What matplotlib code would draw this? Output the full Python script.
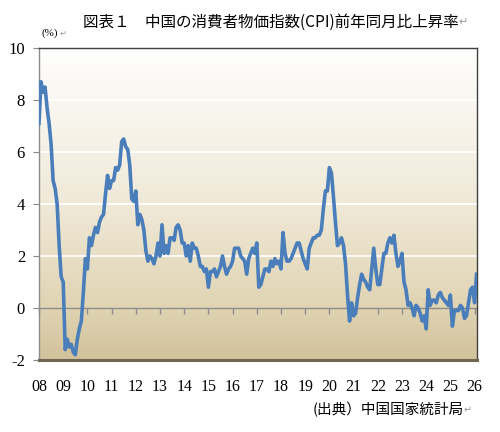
import numpy as np
import matplotlib
matplotlib.use("Agg")
import matplotlib.pyplot as plt
from matplotlib.colors import LinearSegmentedColormap

# China CPI YoY (%) monthly, Jan 2008 - Feb 2026
cpi_2008 = [7.1, 8.7, 8.3, 8.5, 7.7, 7.1, 6.3, 4.9, 4.6, 4.0, 2.4, 1.2]
cpi_2009 = [1.0, -1.6, -1.2, -1.5, -1.4, -1.7, -1.8, -1.2, -0.8, -0.5, 0.6, 1.9]
cpi_2010 = [1.5, 2.7, 2.4, 2.8, 3.1, 2.9, 3.3, 3.5, 3.6, 4.4, 5.1, 4.6]
cpi_2011 = [4.9, 4.9, 5.4, 5.3, 5.5, 6.4, 6.5, 6.2, 6.1, 5.5, 4.2, 4.1]
cpi_2012 = [4.5, 3.2, 3.6, 3.4, 3.0, 2.2, 1.8, 2.0, 1.9, 1.7, 2.0, 2.5]
cpi_2013 = [2.0, 3.2, 2.1, 2.4, 2.1, 2.7, 2.7, 2.6, 3.1, 3.2, 3.0, 2.5]
cpi_2014 = [2.5, 2.0, 2.4, 1.8, 2.5, 2.3, 2.3, 2.0, 1.6, 1.6, 1.4, 1.5]
cpi_2015 = [0.8, 1.4, 1.4, 1.5, 1.2, 1.4, 1.6, 2.0, 1.6, 1.3, 1.5, 1.6]
cpi_2016 = [1.8, 2.3, 2.3, 2.3, 2.0, 1.9, 1.8, 1.3, 1.9, 2.1, 2.3, 2.1]
cpi_2017 = [2.5, 0.8, 0.9, 1.2, 1.5, 1.5, 1.4, 1.8, 1.6, 1.9, 1.7, 1.8]
cpi_2018 = [1.5, 2.9, 2.1, 1.8, 1.8, 1.9, 2.1, 2.3, 2.5, 2.5, 2.2, 1.9]
cpi_2019 = [1.7, 1.5, 2.3, 2.5, 2.7, 2.7, 2.8, 2.8, 3.0, 3.8, 4.5, 4.5]
cpi_2020 = [5.4, 5.2, 4.3, 3.3, 2.4, 2.5, 2.7, 2.4, 1.7, 0.5, -0.5, 0.2]
cpi_2021 = [-0.3, -0.2, 0.4, 0.9, 1.3, 1.1, 1.0, 0.8, 0.7, 1.5, 2.3, 1.5]
cpi_2022 = [0.9, 0.9, 1.5, 2.1, 2.1, 2.5, 2.7, 2.5, 2.8, 2.1, 1.6, 1.8]
cpi_2023 = [2.1, 1.0, 0.7, 0.1, 0.2, 0.0, -0.3, 0.1, 0.0, -0.2, -0.5, -0.3]
cpi_2024 = [-0.8, 0.7, 0.1, 0.3, 0.3, 0.2, 0.5, 0.6, 0.4, 0.3, 0.2, 0.1]
cpi_2025 = [0.5, -0.7, -0.1, -0.1, -0.1, 0.1, 0.0, -0.4, -0.3, 0.2, 0.7, 0.8]
cpi_2026 = [0.2, 1.3]

start_year = 2008
year_ticks = list(range(2008, 2027))
year_labels = ["%02d" % (y % 100) for y in year_ticks]
y_ticks = [-2, 0, 2, 4, 6, 8, 10]

values = (cpi_2008 + cpi_2009 + cpi_2010 + cpi_2011 + cpi_2012 + cpi_2013 +
          cpi_2014 + cpi_2015 + cpi_2016 + cpi_2017 + cpi_2018 + cpi_2019 +
          cpi_2020 + cpi_2021 + cpi_2022 + cpi_2023 + cpi_2024 + cpi_2025 +
          cpi_2026)
x = start_year + np.arange(len(values)) / 12.0

serif = ["Liberation Serif", "DejaVu Serif"]
jp = ["Noto Sans CJK JP", "DejaVu Sans"]

fig = plt.figure(figsize=(5.0, 4.32), dpi=100)
ax = fig.add_axes([39/500, 1 - 360/432, (477-39)/500, (360-48)/432])

# gradient background
cmap = LinearSegmentedColormap.from_list(
    "bg", [(0.0, "#d2c29b"), (0.17, "#e0d4b3"), (0.5, "#f0e9d8"), (1.0, "#fefefd")])
grad = np.linspace(0, 1, 256).reshape(-1, 1)
ax.imshow(grad, cmap=cmap, aspect="auto", extent=[0, 1, 0, 1],
          transform=ax.transAxes, origin="lower", zorder=0)

ax.set_xlim(2008, 2026.1)
ax.set_ylim(-2, 10)

# gridlines
for g in [2, 4, 6, 8]:
    ax.axhline(g, color="white", lw=1.3, zorder=1)

ax.plot(x, values, color="#4a7ebb", lw=2.6, zorder=3, solid_joinstyle="round")

# y axis
ax.set_yticks(y_ticks)
ax.set_yticklabels([str(v) for v in y_ticks], fontfamily=serif, fontsize=12)
ax.tick_params(axis="y", direction="out", length=4, color="#888888", pad=6)

# bottom labels
ax.set_xticks(year_ticks)
ax.set_xticklabels(year_labels, fontfamily=serif, fontsize=11.5)
ax.tick_params(axis="x", length=0, pad=14)

# zero axis with tick marks
sec = ax.secondary_xaxis(2/12)
sec.set_xticks(year_ticks)
sec.set_xticklabels([])
sec.tick_params(axis="x", direction="out", length=4, color="#8c8c8c", width=1)
sec.spines["bottom"].set_color("#8c8c8c")
sec.spines["bottom"].set_linewidth(1.0)

ax.spines["left"].set_color("#8c8c8c")
ax.spines["left"].set_linewidth(1.0)
ax.spines["top"].set_color("#404040")
ax.spines["top"].set_linewidth(1.0)
ax.spines["right"].set_color("#404040")
ax.spines["right"].set_linewidth(1.0)
ax.spines["bottom"].set_color("#6e6650")
ax.spines["bottom"].set_linewidth(2.2)

# texts
fig.text(83/500, 1 - 22/432, "図表１　中国の消費者物価指数(CPI)前年同月比上昇率",
         fontfamily=jp, fontsize=11.2, va="center", ha="left")
fig.text(458/500, 1 - 22/432, "↵", fontfamily=jp, fontsize=8, color="#999999",
         va="center", ha="left")
fig.text(42/500, 1 - 33/432, "(%)", fontfamily=serif, fontsize=8, va="center", ha="left")
fig.text(60/500, 1 - 33/432, "↵", fontfamily=jp, fontsize=6, color="#999999",
         va="center", ha="left")
fig.text(313/500, 1 - 410/432, "(出典）中国国家統計局", fontfamily=jp, fontsize=10.5,
         va="center", ha="left")
fig.text(464/500, 1 - 410/432, "↵", fontfamily=jp, fontsize=7, color="#999999",
         va="center", ha="left")

fig.savefig("out.png", dpi=100)
